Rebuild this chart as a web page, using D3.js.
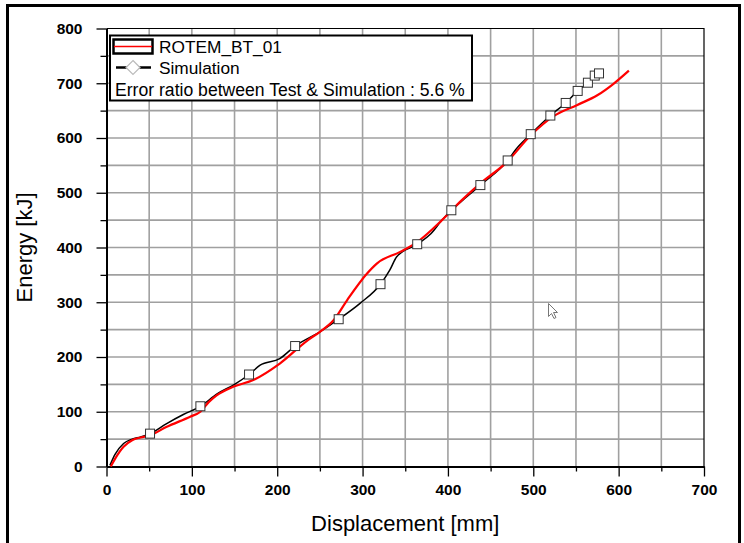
<!DOCTYPE html>
<html>
<head>
<meta charset="utf-8">
<script src="https://cdn.jsdelivr.net/npm/d3@7"></script>
<style>
    body { margin: 0; background: #fff; }
    text { font-family: "Liberation Sans", Arial, sans-serif; }
</style>
</head>
<body>
<div id="chart"></div>
<script>
// test curve (ROTEM_BT_01)
var testX = [5, 10, 20, 30, 40, 51, 70, 98, 110, 120, 129, 149, 172, 203, 236, 250, 266, 282, 305, 317, 344, 364, 393, 416, 438, 469, 497, 524, 551, 575, 594, 612];
var testY = [0, 14, 36, 48, 53, 57, 72, 91, 100, 118, 130, 146, 158, 188, 231, 246, 267, 304, 352, 371, 392, 410, 450, 486, 517, 556, 605, 640, 660, 678, 699, 723];
// simulation curve
var simX = [4, 10, 20, 30, 40, 51, 70, 90, 110, 130, 150, 167, 180, 203, 221, 250, 272, 297, 321, 332, 340, 364, 380, 393, 404, 420, 438, 470, 480, 497, 520, 538, 552, 564, 572, 577];
var simY = [2, 22, 42, 50, 54, 60, 78, 95, 110, 133, 150, 168, 185, 197, 220, 246, 269, 298, 333, 359, 383, 406, 425, 450, 468, 490, 514, 559, 580, 607, 641, 664, 686, 701, 714, 718];
// simulation markers
var markX = [51, 110, 167, 221, 272, 321, 364, 404, 438, 470, 497, 520, 538, 552, 564, 572, 577];
var markY = [60, 110, 168, 220, 269, 333, 406, 468, 514, 559, 607, 641, 664, 686, 701, 714, 718];

var xMajor = [0, 100, 200, 300, 400, 500, 600, 700];
var yMajor = [0, 100, 200, 300, 400, 500, 600, 700, 800];
var xMinor = [50, 150, 250, 350, 450, 550, 650];
var yMinor = [50, 150, 250, 350, 450, 550, 650, 750];

var legendNames = ['ROTEM_BT_01', 'Simulation'];
var legendNote = 'Error ratio between Test & Simulation : 5.6 %';

var pad = { left: 106.5, top: 28.5, right: 704, bottom: 466.5 };

var svg = d3.select('#chart')
    .append('svg')
    .attr('width', 744)
    .attr('height', 543);

// outer frame
svg.append('rect')
    .attr('x', 7.5).attr('y', 5.5)
    .attr('width', 732).attr('height', 560)
    .style('fill', 'none')
    .style('stroke', '#000')
    .style('stroke-width', 3);

var xScale = d3.scaleLinear().domain([0, 700]).range([pad.left, pad.right]);
var yScale = d3.scaleLinear().domain([0, 800]).range([pad.bottom, pad.top]);

// grid every 50
var gx = xMajor.concat(xMinor).filter(d => d > 0 && d < 700);
var gy = yMajor.concat(yMinor).filter(d => d > 0 && d < 800);
svg.append('g').selectAll('line')
    .data(gx).enter().append('line')
    .attr('x1', d => xScale(d)).attr('x2', d => xScale(d))
    .attr('y1', pad.top).attr('y2', pad.bottom)
    .style('stroke', '#a0a0a0').style('stroke-width', 1.6);
svg.append('g').selectAll('line')
    .data(gy).enter().append('line')
    .attr('x1', pad.left).attr('x2', pad.right)
    .attr('y1', d => yScale(d)).attr('y2', d => yScale(d))
    .style('stroke', '#a0a0a0').style('stroke-width', 1.6);

// top and right frame
svg.append('path')
    .attr('d', 'M' + pad.left + ',' + pad.top + 'H' + pad.right + 'V' + pad.bottom)
    .style('fill', 'none').style('stroke', '#000').style('stroke-width', 1.2);

// axes
svg.append('g')
    .attr('transform', 'translate(0,' + pad.bottom + ')')
    .call(d3.axisBottom(xScale).tickValues(xMajor).tickSize(10).tickPadding(7).tickSizeOuter(0));
svg.append('g')
    .attr('transform', 'translate(0,' + pad.bottom + ')')
    .call(d3.axisBottom(xScale).tickValues(xMinor).tickSize(5).tickFormat('').tickSizeOuter(0));
svg.append('g')
    .attr('transform', 'translate(' + pad.left + ',0)')
    .call(d3.axisLeft(yScale).tickValues(yMajor).tickSize(10).tickPadding(14).tickSizeOuter(0));
svg.append('g')
    .attr('transform', 'translate(' + pad.left + ',0)')
    .call(d3.axisLeft(yScale).tickValues(yMinor).tickSize(6).tickFormat('').tickSizeOuter(0));

svg.selectAll('.domain').style('stroke', '#000').style('stroke-width', 2);
svg.selectAll('.tick line').style('stroke', '#000').style('stroke-width', 1.3);
svg.selectAll('.tick text')
    .style('font-family', '"Liberation Sans", Arial, sans-serif')
    .style('font-size', '15.5px')
    .style('font-weight', 'bold')
    .style('fill', '#000');

// axis titles
svg.append('text')
    .attr('x', (pad.left + pad.right) / 2)
    .attr('y', 531)
    .style('text-anchor', 'middle')
    .style('font-size', '22px')
    .text('Displacement [mm]');
svg.append('text')
    .attr('transform', 'translate(32,' + ((pad.top + pad.bottom) / 2) + ') rotate(-90)')
    .style('text-anchor', 'middle')
    .style('font-size', '22px')
    .text('Energy [kJ]');

// curves
var line = d3.line()
    .x(d => xScale(d[0]))
    .y(d => yScale(d[1]))
    .curve(d3.curveMonotoneX);

var simData = simX.map((d, i) => [d, simY[i]]);
var testData = testX.map((d, i) => [d, testY[i]]);
var markData = markX.map((d, i) => [d, markY[i]]);

svg.append('path')
    .datum(simData)
    .attr('d', line)
    .style('fill', 'none').style('stroke', '#000').style('stroke-width', 1.5);
svg.append('path')
    .datum(testData)
    .attr('d', line)
    .style('fill', 'none').style('stroke', '#ff0000').style('stroke-width', 2.2);

svg.append('g').selectAll('rect')
    .data(markData).enter().append('rect')
    .attr('x', d => xScale(d[0]) - 4.5)
    .attr('y', d => yScale(d[1]) - 4.5)
    .attr('width', 9).attr('height', 9)
    .style('fill', '#fff').style('stroke', '#333').style('stroke-width', 1);

// legend
var lg = svg.append('g');
lg.append('rect')
    .attr('x', 110).attr('y', 35.5)
    .attr('width', 362).attr('height', 65)
    .style('fill', '#fff').style('stroke', '#000').style('stroke-width', 2);
lg.append('rect')
    .attr('x', 113.5).attr('y', 39.5)
    .attr('width', 39).attr('height', 14)
    .style('fill', '#fff').style('stroke', '#000').style('stroke-width', 2.5);
lg.append('line')
    .attr('x1', 114).attr('x2', 152).attr('y1', 46.5).attr('y2', 46.5)
    .style('stroke', '#ff0000').style('stroke-width', 1.6);
lg.append('line')
    .attr('x1', 116).attr('x2', 151).attr('y1', 67.5).attr('y2', 67.5)
    .style('stroke', '#000').style('stroke-width', 2.5);
lg.append('path')
    .attr('d', 'M133,60.5L140,67.5L133,74.5L126,67.5Z')
    .style('fill', '#fff').style('stroke', '#bbb').style('stroke-width', 1.2);
lg.selectAll('.lname')
    .data(legendNames).enter().append('text')
    .attr('class', 'lname')
    .attr('x', 159)
    .attr('y', (d, i) => 53 + i * 21)
    .style('font-size', '17.3px')
    .text(d => d);
lg.append('text')
    .attr('x', 115).attr('y', 96)
    .style('font-size', '17.6px')
    .text(legendNote);

// mouse pointer left in the screenshot
svg.append('path')
    .attr('d', 'M548.5,303.5V316.5L551.5,313.5L554,318.5L556,317.5L553.5,312.5H557.5Z')
    .style('fill', '#fff').style('stroke', '#777').style('stroke-width', 1);
</script>
</body>
</html>
